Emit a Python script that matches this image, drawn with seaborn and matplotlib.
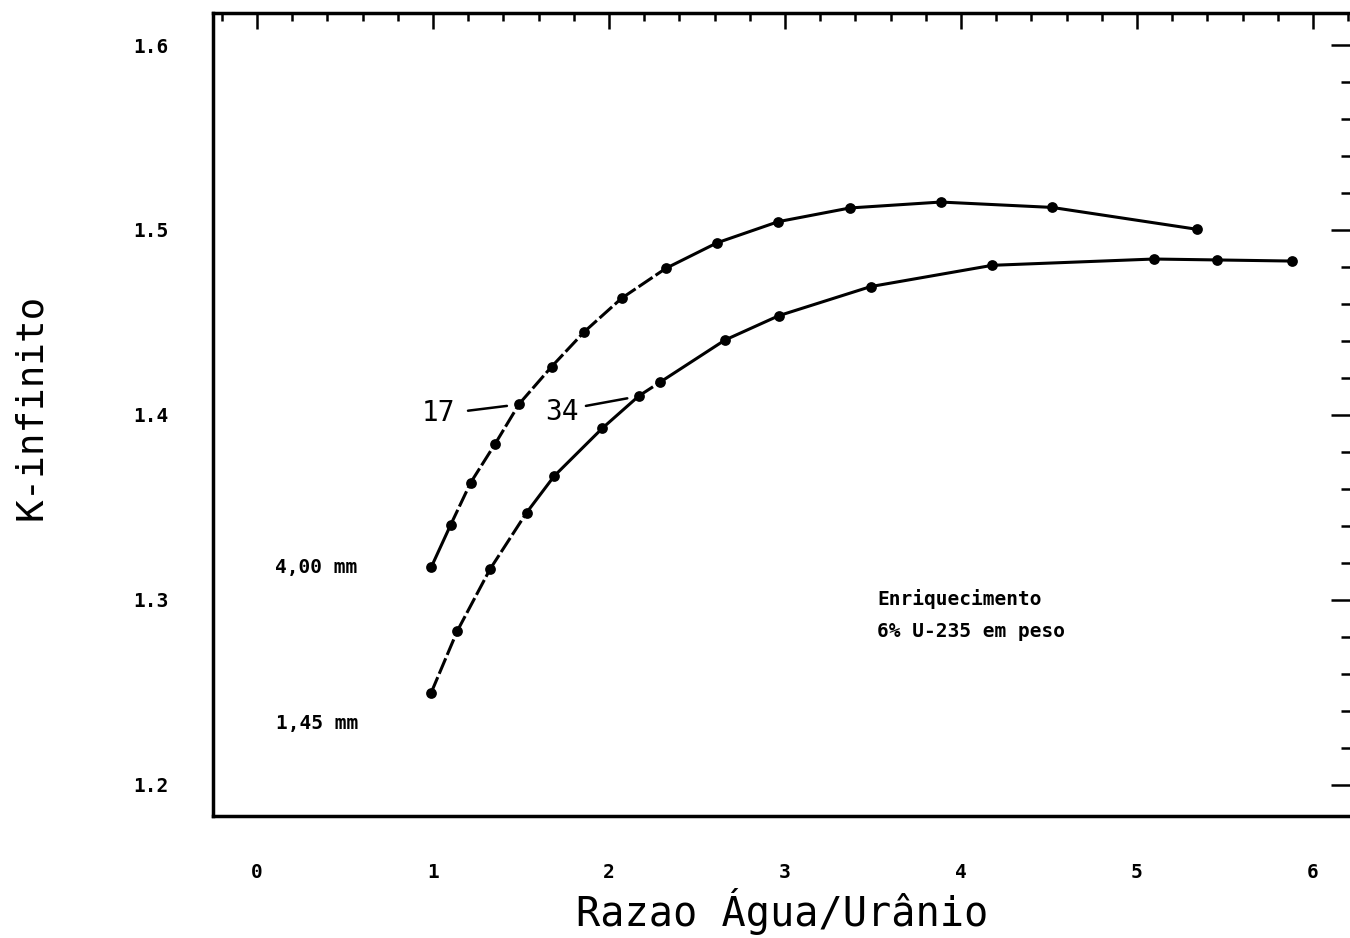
import seaborn as sns
import matplotlib.pyplot as plt
from matplotlib.ticker import MultipleLocator

# curve "17" (4,00 mm)
x_17 = [0.99, 1.10, 1.214, 1.352, 1.490, 1.674, 1.860, 2.072, 2.324, 2.615,
        2.962, 3.369, 3.885, 4.517, 5.339]
k_17 = [1.3177, 1.3405, 1.3634, 1.3842, 1.406, 1.4261, 1.4450, 1.4631, 1.4793,
        1.4931, 1.5045, 1.5119, 1.5151, 1.5122, 1.5004]
# segments drawn broken in the original plot (index of first point)
broken_17 = [1, 2, 3, 4, 5, 6, 7]

# curve "34" (1,45 mm)
x_34 = [0.99, 1.138, 1.324, 1.532, 1.689, 1.962, 2.170, 2.290, 2.659, 2.966,
        3.487, 4.178, 5.097, 5.456, 5.882]
k_34 = [1.2499, 1.2832, 1.3166, 1.3472, 1.3670, 1.3928, 1.4103, 1.4177, 1.4405,
        1.4537, 1.4694, 1.4809, 1.4843, 1.4838, 1.4832]
broken_34 = [0, 1, 2, 6]

x_ticks = [0, 1, 2, 3, 4, 5, 6]
y_ticks = [1.2, 1.3, 1.4, 1.5, 1.6]

sns.set_style('white')
plt.rcParams['font.family'] = ['DejaVu Sans Mono', 'DejaVu Sans']
plt.rcParams['text.color'] = 'black'
plt.rcParams['axes.labelcolor'] = 'black'
plt.rcParams['xtick.color'] = 'black'
plt.rcParams['ytick.color'] = 'black'

fig = plt.figure(figsize=(13.5, 9.38), dpi=100)
ax = fig.add_axes([213 / 1350, 122 / 938, 1139 / 1350, 803 / 938])

for xs, ks, broken in [(x_17, k_17, broken_17), (x_34, k_34, broken_34)]:
    for i in range(len(xs) - 1):
        ls = (0, (5.5, 1.2)) if i in broken else '-'
        ax.plot(xs[i:i + 2], ks[i:i + 2], color='black', linewidth=2.2, linestyle=ls)
    sns.scatterplot(x=xs, y=ks, ax=ax, color='black', s=60, linewidth=0, zorder=3)

ax.set_xlim(-0.25, 6.222)
ax.set_ylim(1.1832, 1.6173)
ax.set_xticks(x_ticks)
ax.set_yticks(y_ticks)
ax.xaxis.set_minor_locator(MultipleLocator(0.2))
ax.yaxis.set_minor_locator(MultipleLocator(0.02))
ax.set_xticklabels([str(v) for v in x_ticks], fontsize=14, fontweight='bold')
ax.set_yticklabels([f'{v:.1f}' for v in y_ticks], fontsize=14, fontweight='bold')

ax.tick_params(axis='both', which='both', direction='in', top=True, right=True,
               width=1.8, color='black')
ax.tick_params(axis='x', which='major', length=11.5, pad=34)
ax.tick_params(axis='x', which='minor', length=6)
ax.tick_params(axis='y', which='major', length=15, pad=32)
ax.tick_params(axis='y', which='minor', length=8)
for sp in ax.spines.values():
    sp.set_linewidth(2.5)
    sp.set_color('black')

ax.set_xlabel('Razao Água/Urânio', fontsize=29)
ax.xaxis.set_label_coords(0.5, -0.137)
ax.xaxis.label.set_va('baseline')
ax.set_ylabel('K-infinito', fontsize=27)
ax.yaxis.set_label_coords(-0.160, 0.51)
ax.yaxis.label.set_va('center')

# annotations
ax.text(1.03, 1.4012, '17', fontsize=20, ha='center', va='center')
ax.plot([1.199, 1.420], [1.4023, 1.4049], color='black', linewidth=1.8)
ax.text(1.730, 1.4016, '34', fontsize=20, ha='center', va='center')
ax.plot([1.869, 2.104], [1.4049, 1.4090], color='black', linewidth=1.8)

ax.text(0.102, 1.3178, '4,00 mm', fontsize=14, fontweight='bold', va='center')
ax.text(0.108, 1.2330, '1,45 mm', fontsize=14, fontweight='bold', va='center')
ax.text(3.523, 1.3005, 'Enriquecimento', fontsize=14, fontweight='bold', va='center')
ax.text(3.523, 1.2827, '6% U-235 em peso', fontsize=14, fontweight='bold', va='center')

fig.savefig('out.png', dpi=100)
